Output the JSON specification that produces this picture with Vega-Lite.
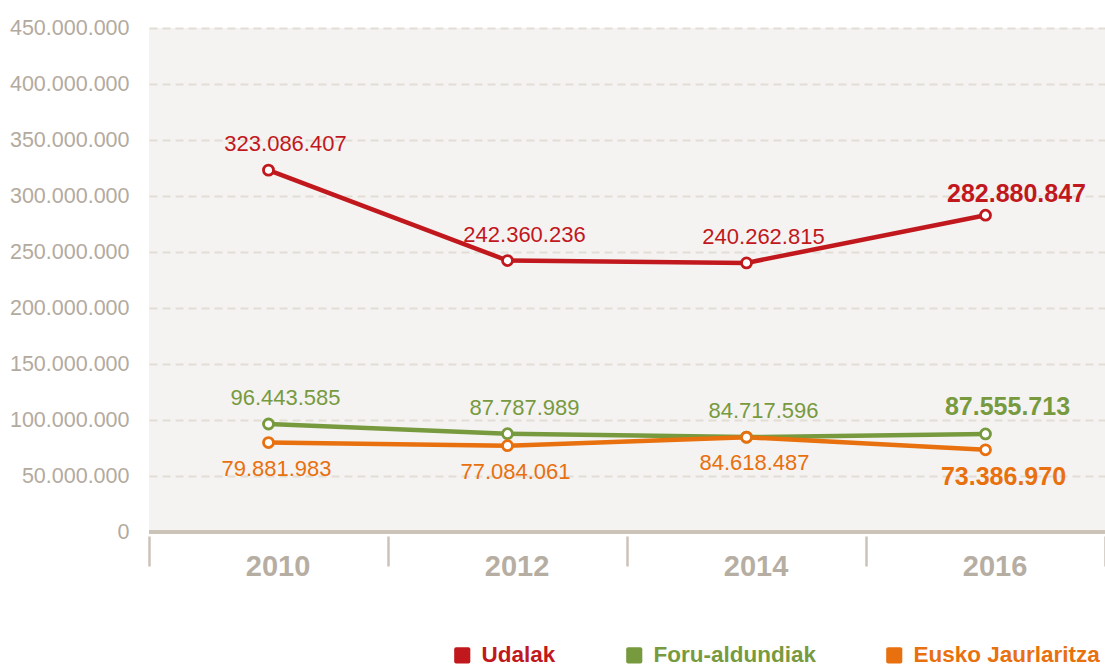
{
  "$schema": "https://vega.github.io/schema/vega-lite/v6.json",
  "width": 956,
  "height": 504,
  "autosize": {"type": "none"},
  "padding": {"left": 149, "top": 28, "right": 0, "bottom": 136},
  "background": "#ffffff",
  "config": {
    "locale": {"number": {"decimal": ",", "thousands": ".", "grouping": [3], "currency": ["", " €"]}},
    "view": {"fill": "#f4f3f1", "stroke": null},
    "font": "Liberation Sans, Arial, sans-serif"
  },
  "data": {
    "values": [
      {"year": "2010", "series": "Udalak", "value": 323086407},
      {"year": "2012", "series": "Udalak", "value": 242360236},
      {"year": "2014", "series": "Udalak", "value": 240262815},
      {"year": "2016", "series": "Udalak", "value": 282880847},
      {"year": "2010", "series": "Foru-aldundiak", "value": 96443585},
      {"year": "2012", "series": "Foru-aldundiak", "value": 87787989},
      {"year": "2014", "series": "Foru-aldundiak", "value": 84717596},
      {"year": "2016", "series": "Foru-aldundiak", "value": 87555713},
      {"year": "2010", "series": "Eusko Jaurlaritza", "value": 79881983},
      {"year": "2012", "series": "Eusko Jaurlaritza", "value": 77084061},
      {"year": "2014", "series": "Eusko Jaurlaritza", "value": 84618487},
      {"year": "2016", "series": "Eusko Jaurlaritza", "value": 73386970}
    ]
  },
  "encoding": {
    "x": {
      "field": "year", "type": "ordinal",
      "scale": {"type": "band", "paddingInner": 0, "paddingOuter": 0},
      "axis": {
        "title": null, "domain": false, "grid": false, "tickBand": "extent",
        "offset": 4, "tickSize": 30, "tickWidth": 2.5, "tickColor": "#cbc3b8",
        "labelFontWeight": "bold",
        "labelFontSize": 29, "labelColor": "#b7aea3", "labelOffset": 9,
        "labelBaseline": "middle", "labelPadding": 0, "labelAngle": 0
      }
    },
    "y": {
      "field": "value", "type": "quantitative",
      "scale": {"domain": [0, 450000000], "nice": false, "zero": true},
      "axis": {
        "title": null, "domain": false, "ticks": false,
        "values": [0, 50000000, 100000000, 150000000, 200000000, 250000000, 300000000, 350000000, 400000000, 450000000],
        "format": ",d", "labelFontSize": 21.5, "labelColor": "#b3aa9e",
        "labelPadding": 20, "labelDy": -4,
        "grid": true, "gridColor": "#e2ded6", "gridWidth": 2, "gridDash": [8, 5]
      }
    },
    "color": {
      "field": "series", "type": "nominal",
      "scale": {"domain": ["Udalak", "Foru-aldundiak", "Eusko Jaurlaritza"], "range": ["#c1181d", "#789a3f", "#e8700e"]},
      "legend": {
        "title": null, "orient": "none", "direction": "horizontal",
        "legendX": 302, "legendY": 616,
        "symbolType": "M -0.75,-1 L 0.75,-1 Q 1,-1 1,-0.75 L 1,0.75 Q 1,1 0.75,1 L -0.75,1 Q -1,1 -1,0.75 L -1,-0.75 Q -1,-1 -0.75,-1 Z",
        "symbolSize": 260, "symbolStrokeWidth": 0, "symbolOpacity": 1,
        "labelFontWeight": "bold", "labelLimit": 400,
        "labelFontSize": 22.5, "labelOffset": 8, "columnPadding": 67,
        "encode": {"labels": {"update": {"fill": {"scale": "color", "field": "value"}}}}
      }
    }
  },
  "layer": [
    {
      "mark": {"type": "rule", "color": "#cbc3b8", "strokeWidth": 2.5},
      "encoding": {"y": {"datum": 0}, "x": null, "color": null}
    },
    {
      "mark": {"type": "line", "strokeWidth": 4.5}
    },
    {
      "mark": {"type": "point", "shape": "circle", "filled": false, "fill": "#ffffff", "fillOpacity": 1, "opacity": 1, "strokeWidth": 2.8, "size": 100}
    },
    {
      "transform": [{"filter": "datum.year != '2016' && datum.series != 'Eusko Jaurlaritza'"}],
      "mark": {"type": "text", "fontSize": 22, "baseline": "middle", "dx": 17, "dy": -26},
      "encoding": {"text": {"field": "value", "type": "quantitative", "format": ",d"}}
    },
    {
      "transform": [{"filter": "datum.year != '2016' && datum.series == 'Eusko Jaurlaritza'"}],
      "mark": {"type": "text", "fontSize": 22, "baseline": "middle", "dx": 8, "dy": 26},
      "encoding": {"text": {"field": "value", "type": "quantitative", "format": ",d"}}
    },
    {
      "transform": [{"filter": "datum.year == '2016' && datum.series == 'Udalak'"}],
      "mark": {"type": "text", "fontSize": 25, "fontWeight": "bold", "baseline": "middle", "dx": 31, "dy": -21},
      "encoding": {"text": {"field": "value", "type": "quantitative", "format": ",d"}}
    },
    {
      "transform": [{"filter": "datum.year == '2016' && datum.series == 'Foru-aldundiak'"}],
      "mark": {"type": "text", "fontSize": 25, "fontWeight": "bold", "baseline": "middle", "dx": 22, "dy": -27},
      "encoding": {"text": {"field": "value", "type": "quantitative", "format": ",d"}}
    },
    {
      "transform": [{"filter": "datum.year == '2016' && datum.series == 'Eusko Jaurlaritza'"}],
      "mark": {"type": "text", "fontSize": 25, "fontWeight": "bold", "baseline": "middle", "dx": 18, "dy": 27},
      "encoding": {"text": {"field": "value", "type": "quantitative", "format": ",d"}}
    }
  ]
}
